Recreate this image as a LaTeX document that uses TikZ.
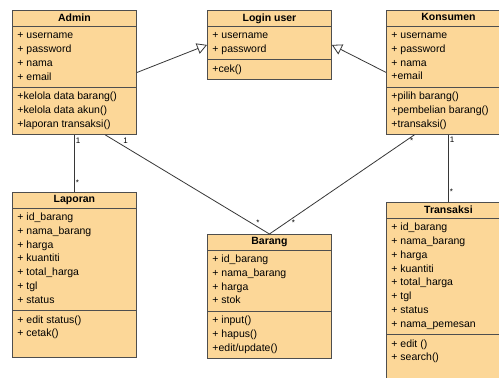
\documentclass[tikz,border=0pt]{standalone}
\usepackage{fontspec}
\setmainfont{Liberation Sans}
\usetikzlibrary{shapes.multipart,arrows.meta}
\definecolor{classfill}{RGB}{252,215,152}
\definecolor{classline}{RGB}{78,78,78}
\definecolor{linecol}{RGB}{55,55,55}
\newcommand{\clsname}[1]{\rule[-2.2pt]{0pt}{9.6pt}\textbf{#1}}
\begin{document}
\begin{tikzpicture}[
            x=1pt, y=-1pt,
            class/.style={rectangle split, rectangle split parts=3, draw=classline, fill=classfill,
                line width=0.9pt, minimum width=124pt, inner xsep=5pt, inner ysep=2.5pt,
                anchor=north west, align=left, rectangle split part align={center,left,left},
                font=\fontsize{10.5}{13.8}\selectfont},
            mult/.style={font=\fontsize{8}{9}\selectfont, inner sep=1pt},
            gen/.style={draw=linecol, line width=0.8pt, -{Triangle[open, length=10pt, width=11pt]}},
            assoc/.style={draw=linecol, line width=0.8pt}
            ]
        \clip (0,0) rectangle (499,378);
        \fill[white] (0,0) rectangle (499,378);
        % classes
        \node[class] (admin) at (12,10) {\clsname{Admin}
            \nodepart{second}\strut + username\\ \strut + password\\ \strut + nama\\ \strut + email
            \nodepart{third}\strut +kelola data barang()\\ \strut +kelola data akun()\\ \strut +laporan transaksi()};
        \node[class] (login) at (207,10) {\clsname{Login user}
            \nodepart{second}\strut + username\\ \strut + password
            \nodepart{third}\strut +cek()};
        \node[class] (konsumen) at (386,10) {\clsname{Konsumen}
            \nodepart{second}\strut + username\\ \strut + password\\ \strut + nama\\ \strut +email
            \nodepart{third}\strut +pilih barang()\\ \strut +pembelian barang()\\ \strut +transaksi()};
        \node[class] (laporan) at (12,192) {\clsname{Laporan}
            \nodepart{second}\strut + id\_barang\\ \strut + nama\_barang\\ \strut + harga\\ \strut + kuantiti\\
                \strut + total\_harga\\ \strut + tgl\\ \strut + status
            \nodepart{third}\strut + edit status()\\ \strut + cetak()\\ \strut};
        \node[class] (barang) at (207,234) {\clsname{Barang}
            \nodepart{second}\strut + id\_barang\\ \strut + nama\_barang\\ \strut + harga\\ \strut + stok
            \nodepart{third}\strut + input()\\ \strut + hapus()\\ \strut +edit/update()};
        \node[class] (transaksi) at (386,202) {\clsname{Transaksi}
            \nodepart{second}\strut + id\_barang\\ \strut + nama\_barang\\ \strut + harga\\ \strut + kuantiti\\
                \strut + total\_harga\\ \strut + tgl\\ \strut + status\\ \strut + nama\_pemesan
            \nodepart{third}\strut + edit ()\\ \strut + search()\\ \strut\\ \strut};
        % relations
        \draw[gen] (admin.east) -- (login.west);
        \draw[gen] (konsumen.west) -- (login.east);
        \draw[assoc] (admin.south) -- node[mult, pos=.1, right]{1} node[mult, pos=.83, right]{*} (laporan.north);
        \draw[assoc] ([xshift=31pt]admin.south) -- node[mult, pos=.1, above right]{1} node[mult, pos=.93, above]{*} (barang.north);
        \draw[assoc] ([xshift=-34pt]konsumen.south) -- node[mult, pos=.06, right=3pt]{*} node[mult, pos=.89, right=5pt]{*} (barang.north);
        \draw[assoc] (konsumen.south) -- node[mult, pos=.07, right]{1} node[mult, pos=.85, right]{*} (transaksi.north);
\end{tikzpicture}
\end{document}
